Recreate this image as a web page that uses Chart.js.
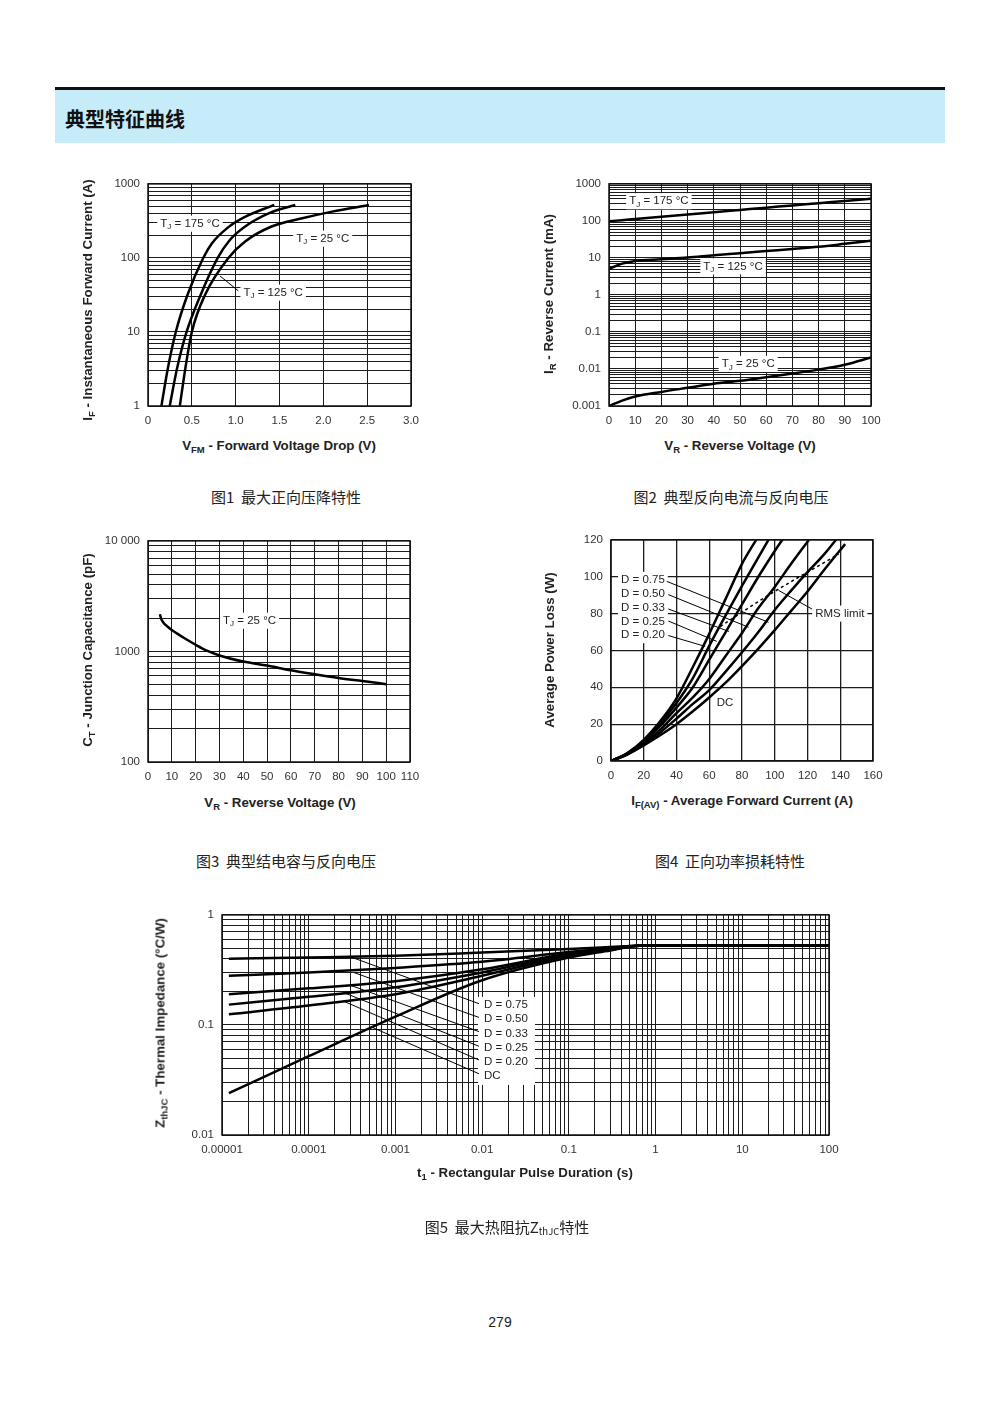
<!DOCTYPE html>
<html>
<head>
<meta charset="utf-8">
<script src="https://cdn.jsdelivr.net/npm/chart.js@4.4.1/dist/chart.umd.min.js"></script>
<style>
  body { margin: 0; background: #fff; }
  #page { position: relative; width: 1000px; height: 1414px; overflow: hidden;
          font-family: 'Liberation Sans', Arial, sans-serif; color: #222; }
  .rule { position: absolute; left: 55px; top: 87px; width: 890px; height: 3px; background: #111; }
  .band { position: absolute; left: 55px; top: 90px; width: 890px; height: 53px; background: #c6ecf9; }
  .head { position: absolute; left: 65px; top: 118px; transform: translateY(-50%);
          font: bold 20px 'Noto Sans CJK SC', sans-serif; color: #111; }
  canvas { position: absolute; }
  .t { position: absolute; white-space: nowrap; font-weight: bold; font-size: 13.3px;
       transform: translate(-50%, -50%); line-height: 15px; }
  .t.v { transform: translate(-50%, -50%) rotate(-90deg); }
  .t sub { font-size: 9.5px; vertical-align: -3px; line-height: 0; }
  .cap { position: absolute; white-space: nowrap; font: 15px 'Noto Sans CJK SC', sans-serif;
         transform: translate(-50%, -50%); color: #222; }
  .cap sub { font-size: 9.5px; vertical-align: -2px; line-height: 0; }
  .pg { position: absolute; left: 500px; top: 1322px; transform: translate(-50%, -50%); font-size: 14px; }
</style>
</head>
<body>
<div id="page">
  <div class="rule"></div>
  <div class="band"></div>
  <div class="head">典型特征曲线</div>

  <canvas id="c1"></canvas>
  <canvas id="c2"></canvas>
  <canvas id="c3"></canvas>
  <canvas id="c4"></canvas>
  <canvas id="c5"></canvas>

  <div class="t v" style="left:87px;top:300px">I<sub>F</sub> - Instantaneous Forward Current (A)</div>
  <div class="t" style="left:279px;top:445px">V<sub>FM</sub> - Forward Voltage Drop (V)</div>
  <div class="cap" style="left:286px;top:496px">图1&nbsp;&nbsp;最大正向压降特性</div>

  <div class="t v" style="left:548px;top:294px">I<sub>R</sub> - Reverse Current (mA)</div>
  <div class="t" style="left:740px;top:445px">V<sub>R</sub> - Reverse Voltage (V)</div>
  <div class="cap" style="left:731px;top:496px">图2&nbsp;&nbsp;典型反向电流与反向电压</div>

  <div class="t v" style="left:87px;top:650px">C<sub>T</sub> - Junction Capacitance (pF)</div>
  <div class="t" style="left:280px;top:802px">V<sub>R</sub> - Reverse Voltage (V)</div>
  <div class="cap" style="left:286px;top:860px">图3&nbsp;&nbsp;典型结电容与反向电压</div>

  <div class="t v" style="left:549px;top:650px">Average Power Loss (W)</div>
  <div class="t" style="left:742px;top:800px">I<sub>F(AV)</sub> - Average Forward Current (A)</div>
  <div class="cap" style="left:730px;top:860px">图4&nbsp;&nbsp;正向功率损耗特性</div>

  <div class="t v" style="left:160px;top:1023px">Z<sub>thJC</sub> - Thermal Impedance (°C/W)</div>
  <div class="t" style="left:525px;top:1172px">t<sub>1</sub> - Rectangular Pulse Duration (s)</div>
  <div class="cap" style="left:507px;top:1226px">图5&nbsp;&nbsp;最大热阻抗Z<sub>thJC</sub>特性</div>

  <div class="pg">279</div>
</div>

<script>
// ---- fig 1: forward characteristics ----
const vf175 = [0.153, 0.225, 0.317, 0.45, 0.63, 0.73, 0.90, 1.10, 1.44];
const if175 = [1, 3.16, 10, 31.6, 100, 158, 251, 355, 520];
const vf125 = [0.248, 0.33, 0.44, 0.60, 0.795, 0.936, 1.108, 1.376, 1.68];
const if125 = [1, 3.16, 10, 31.6, 100, 176, 266, 400, 518];
const vf25 = [0.363, 0.425, 0.50, 0.65, 0.917, 1.108, 1.41, 1.76, 2.10, 2.52];
const if25 = [1, 3.16, 10, 31.6, 100, 167, 266, 343, 422, 518];
const f1XLabels = ['0', '0.5', '1.0', '1.5', '2.0', '2.5', '3.0'];
const f1YMajor = [1, 10, 100, 1000];
const f1YLabels = ['1', '10', '100', '1000'];

// ---- fig 2: reverse current ----
const vr2 = [0, 5, 10, 20, 30, 40, 50, 60, 70, 80, 90, 100];
const ir175 = [98, 105, 113, 130, 149, 172, 198, 228, 262, 302, 347, 400];
const ir125 = [5.1, 7.0, 8.3, 9.2, 10.2, 11.8, 13.4, 15.3, 17.4, 20, 24, 29];
const ir25 = [0.001, 0.0014, 0.0018, 0.0024, 0.0031, 0.004, 0.0048, 0.006, 0.0075, 0.0096, 0.013, 0.0205];
const f2XLabels = ['0', '10', '20', '30', '40', '50', '60', '70', '80', '90', '100'];
const f2YMajor = [0.001, 0.01, 0.1, 1, 10, 100, 1000];
const f2YLabels = ['0.001', '0.01', '0.1', '1', '10', '100', '1000'];

// ---- fig 3: junction capacitance ----
const vr3 = [5, 5.5, 6.5, 8.5, 10, 15, 20, 25, 30, 40, 50, 60, 70, 80, 90, 100];
const ct3 = [2170, 1980, 1820, 1660, 1560, 1330, 1150, 1010, 920, 810, 745, 676, 622, 576, 540, 506];
const f3XLabels = ['0', '10', '20', '30', '40', '50', '60', '70', '80', '90', '100', '110'];
const f3YMajor = [100, 1000, 10000];
const f3YLabels = ['100', '1000', '10 000'];

// ---- fig 4: power loss ----
const iav = [0, 10, 20, 30, 40, 50, 60, 70, 80, 90, 100, 110, 120, 130, 140, 143];
const pD020 = [0, 4.3, 11.5, 21.5, 34, 51, 69, 88, 107, 122, null, null, null, null, null, null];
const pD025 = [0, 4.2, 11, 20.5, 31.5, 45, 62.5, 79, 95, 110.5, 126, null, null, null, null, null];
const pD033 = [0, 4, 10.5, 19, 29, 40, 55, 70, 85, 100, 114, 127, null, null, null, null];
const pD050 = [0, 3.9, 9.5, 17, 26, 34.5, 44.5, 57, 69.5, 83, 94.5, 107, 119, 131, null, null];
const pD075 = [0, 3.7, 9, 15.5, 23, 31, 38.5, 48.5, 59, 70, 82, 92.5, 102.5, 112, 123, null];
const pDC = [0, 3.5, 8.5, 14, 20, 27, 34.5, 42.5, 51.5, 61, 71, 81.5, 92, 103.5, 114.5, 117.7];
const rmsI = [66.7, 96.2, 139];
const rmsP = [73, 90, 112.3];
const f4XLabels = ['0', '20', '40', '60', '80', '100', '120', '140', '160'];
const f4YLabels = ['0', '20', '40', '60', '80', '100', '120'];

// ---- fig 5: transient thermal impedance ----
const tp = [1.2e-5, 1e-4, 1e-3, 1e-2, 0.1, 0.3, 0.65, 100];
const z075 = [0.40, 0.41, 0.425, 0.455, 0.49, 0.51, 0.525, 0.525];
const z050 = [0.28, 0.30, 0.33, 0.375, 0.46, 0.50, 0.525, 0.525];
const z033 = [0.19, 0.215, 0.25, 0.32, 0.445, 0.49, 0.525, 0.525];
const z025 = [0.153, 0.18, 0.22, 0.30, 0.435, 0.485, 0.525, 0.525];
const z020 = [0.125, 0.15, 0.19, 0.28, 0.425, 0.48, 0.525, 0.525];
const zDC = [0.024, 0.052, 0.119, 0.255, 0.41, 0.475, 0.525, 0.525];
const f5XMajor = [1e-5, 1e-4, 1e-3, 1e-2, 0.1, 1, 10, 100];
const f5XLabels = ['0.00001', '0.0001', '0.001', '0.01', '0.1', '1', '10', '100'];
const f5YMajor = [0.01, 0.1, 1];
const f5YLabels = ['0.01', '0.1', '1'];
const f5Keys = ['D = 0.75', 'D = 0.50', 'D = 0.33', 'D = 0.25', 'D = 0.20', 'DC'];

const FONT = '"Liberation Sans", Arial, sans-serif';

function logGrid(major) {
  const v = [];
  for (let i = 0; i < major.length - 1; i++)
    for (let k = 1; k < 10; k++) v.push(+(k * major[i]).toPrecision(3));
  v.push(major[major.length - 1]);
  return v;
}

function axis(kind, a, size) {
  const o = {
    type: a.major ? 'logarithmic' : 'linear',
    position: kind === 'x' ? 'bottom' : 'left',
    min: a.min, max: a.max,
    grid: { color: '#1c1c1c', lineWidth: a.gw || 1, drawTicks: false },
    border: { display: false },
    ticks: {
      autoSkip: false, maxRotation: 0, color: '#333', padding: 8,
      font: { family: 'Liberation Sans', size: 11.5 },
      callback: a.major
        ? v => { const i = a.major.indexOf(v); return i < 0 ? '' : a.labels[i]; }
        : (v, i) => a.labels[i]
    },
    afterFit: s => { if (kind === 'x') s.height = size; else s.width = size; }
  };
  if (a.major) o.afterBuildTicks = s => { s.ticks = logGrid(a.major).map(v => ({ value: v })); };
  else o.ticks.stepSize = a.step;
  return o;
}

function curve(xs, ys, w, dash) {
  const data = [];
  xs.forEach((x, i) => { if (ys[i] != null) data.push({ x, y: ys[i] }); });
  return { data, borderColor: '#000', borderWidth: w || 2.5, pointRadius: 0, fill: false,
           cubicInterpolationMode: 'monotone', borderDash: dash || [], borderCapStyle: 'butt' };
}

function drawRich(ctx, x, y, parts, size, bg) {
  const main = size + 'px ' + FONT, small = (size * 0.7) + 'px ' + FONT;
  let w = 0;
  parts.forEach(p => { ctx.font = p[1] ? small : main; w += ctx.measureText(p[0]).width; });
  if (bg) { ctx.fillStyle = '#fff'; ctx.fillRect(x - 3, y - size * 0.7, w + 6, size * 1.4); }
  ctx.fillStyle = '#222';
  ctx.textBaseline = 'middle';
  let cx = x;
  parts.forEach(p => {
    ctx.font = p[1] ? small : main;
    ctx.fillText(p[0], cx, p[1] ? y + size * 0.3 : y);
    cx += ctx.measureText(p[0]).width;
  });
}

function notesPlugin(notes, panel) {
  return {
    id: 'notes',
    beforeDatasetsDraw(chart) {
      const { ctx, scales: { x, y } } = chart;
      ctx.save();
      if (panel) {
        const px = x.getPixelForValue(panel.x), py = y.getPixelForValue(panel.y);
        ctx.fillStyle = '#fff';
        ctx.fillRect(px + panel.dx, py + panel.dy, panel.w, panel.h);
        panel.lines.forEach((t, i) => drawRich(ctx, px, py + i * panel.step, [[t]], 11.5, false));
      }
      notes.forEach(n => drawRich(ctx, x.getPixelForValue(n[0]), y.getPixelForValue(n[1]), n[2], 11.5, true));
      ctx.restore();
    },
    afterDatasetsDraw(chart) {
      const { ctx, chartArea: a } = chart;
      ctx.save();
      ctx.strokeStyle = '#111';
      ctx.lineWidth = 1.5;
      ctx.strokeRect(a.left, a.top, a.right - a.left, a.bottom - a.top);
      ctx.restore();
    }
  };
}

function buildChart(id, box, pad, xa, ya, datasets, notes, panel) {
  const c = document.getElementById(id);
  const w = box.R - box.L + pad[0] + pad[2], h = box.B - box.T + pad[1] + pad[3];
  c.width = w; c.height = h;
  Object.assign(c.style, { left: (box.L - pad[0]) + 'px', top: (box.T - pad[1]) + 'px',
                           width: w + 'px', height: h + 'px' });
  return new Chart(c, {
    type: 'line',
    data: { datasets },
    options: {
      responsive: false, animation: false, events: [],
      layout: { padding: { left: 0, top: pad[1], right: pad[2], bottom: 0 } },
      plugins: { legend: { display: false }, tooltip: { enabled: false } },
      scales: { x: axis('x', xa, pad[3]), y: axis('y', ya, pad[0]) }
    },
    plugins: [notesPlugin(notes, panel)]
  });
}

const tj = t => [['T'], ['J', 1], [' = ' + t + ' °C']];

// fig 1
buildChart('c1', { L: 148, T: 181, R: 411, B: 406 }, [78, 12, 20, 30],
  { min: 0, max: 3, step: 0.5, labels: f1XLabels },
  { min: 1, max: 1000, major: f1YMajor, labels: f1YLabels },
  [curve(vf175, if175), curve(vf125, if125), curve(vf25, if25),
   curve([1.03, 0.822], [36, 57], 1)],
  [[0.14, 290, tj(175)], [1.69, 182, tj(25)], [1.089, 34, tj(125)]]);

// fig 2
buildChart('c2', { L: 609, T: 181, R: 871, B: 406 }, [60, 12, 20, 30],
  { min: 0, max: 100, step: 10, labels: f2XLabels },
  { min: 0.001, max: 1000, major: f2YMajor, labels: f2YLabels },
  [curve(vr2, ir175), curve(vr2, ir125), curve(vr2, ir25)],
  [[7.7, 340, tj(175)], [36, 5.9, tj(125)], [43, 0.0137, tj(25)]]);

// fig 3
buildChart('c3', { L: 148, T: 538, R: 410, B: 762 }, [78, 12, 20, 30],
  { min: 0, max: 110, step: 10, labels: f3XLabels },
  { min: 100, max: 10000, major: f3YMajor, labels: f3YLabels },
  [curve(vr3, ct3)],
  [[31.5, 1896, tj(25)]]);

// fig 4
buildChart('c4', { L: 611, T: 537, R: 873, B: 761 }, [60, 12, 20, 30],
  { min: 0, max: 160, step: 20, labels: f4XLabels, gw: 1.3 },
  { min: 0, max: 120, step: 20, labels: f4YLabels, gw: 1.3 },
  [curve(iav, pD020), curve(iav, pD025), curve(iav, pD033), curve(iav, pD050),
   curve(iav, pD075), curve(iav, pDC), curve(rmsI, rmsP, 1.5, [3, 3]),
   curve([34, 96.2], [97.5, 75.3], 1), curve([35, 84], [90.3, 72.6], 1),
   curve([35, 72.1], [82.5, 70.3], 1), curve([35, 64.6], [76, 64.9], 1),
   curve([35, 57.5], [68.1, 62.2], 1), curve([122.7, 102.3], [82.5, 92.6], 1)],
  [[6.1, 98.3, [['D = 0.75']]], [6.1, 90.8, [['D = 0.50']]], [6.1, 83.3, [['D = 0.33']]],
   [6.1, 75.8, [['D = 0.25']]], [6.1, 68.3, [['D = 0.20']]],
   [124.7, 80, [['RMS limit']]], [64.6, 31.8, [['DC']]]]);

// fig 5
buildChart('c5', { L: 222, T: 912, R: 829, B: 1135 }, [60, 12, 25, 30],
  { min: 1e-5, max: 100, major: f5XMajor, labels: f5XLabels },
  { min: 0.01, max: 1, major: f5YMajor, labels: f5YLabels },
  [curve(tp, z075), curve(tp, z050), curve(tp, z033), curve(tp, z025), curve(tp, z020), curve(tp, zDC),
   curve([3.0e-4, 0.0092], [0.417, 0.156], 1), curve([3.3e-4, 0.0092], [0.30, 0.117], 1),
   curve([3.0e-4, 0.0092], [0.23, 0.087], 1), curve([2.6e-4, 0.0092], [0.195, 0.064], 1),
   curve([2.5e-4, 0.0092], [0.165, 0.048], 1), curve([5.4e-4, 0.0092], [0.095, 0.036], 1)],
  [],
  { x: 0.0105, y: 0.152, dx: -6, dy: -8, w: 57, h: 88, step: 14.2, lines: f5Keys });
</script>
</body>
</html>
